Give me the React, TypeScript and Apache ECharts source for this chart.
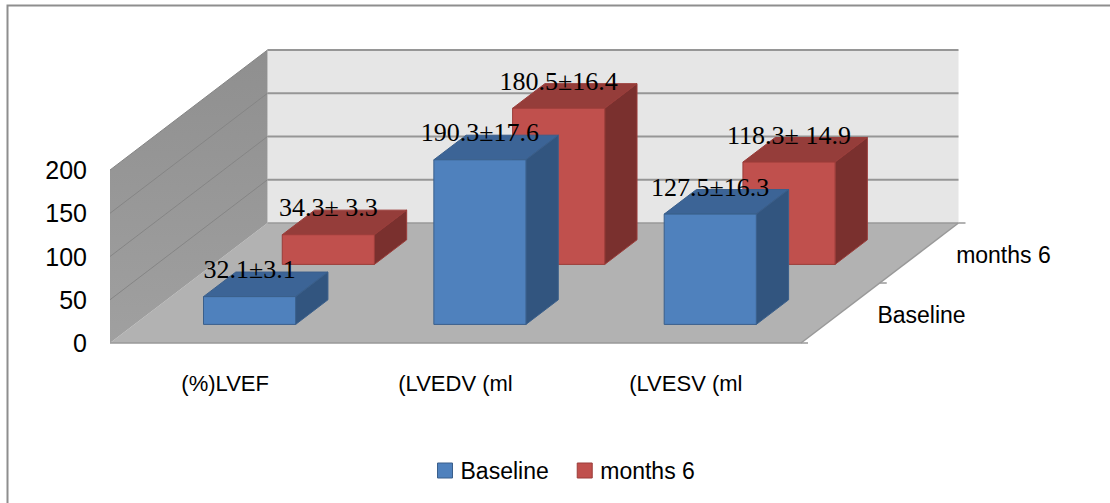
import React, { useEffect, useRef } from "react";
import * as echarts from "echarts";

// Categories and values
const CATEGORIES = ["(%)LVEF", "(LVEDV (ml", "(LVESV (ml"];
const SERIES_NAMES = ["Baseline", "months 6"];
const BASELINE_VALUES = [32.1, 190.3, 127.5];
const MONTHS6_VALUES = [34.3, 180.5, 118.3];
const BASELINE_LABELS = ["32.1±3.1", "190.3±17.6", "127.5±16.3"];
const MONTHS6_LABELS = ["34.3± 3.3", "180.5±16.4", "118.3± 14.9"];
const Y_MIN = 0;
const Y_MAX = 200;
const Y_STEP = 50;

// Oblique projection of the depth axis (pixels for the full depth)
const DEPTH_DX = 157.5;
const DEPTH_DY = -120;
const ROW_COUNT = SERIES_NAMES.length;
const BAR_WIDTH_RATIO = 0.4;
const BAR_DEPTH_START = 0.31; // within a row
const BAR_DEPTH_SIZE = 0.41; // within a row

const SANS = '"Liberation Sans", Arial, sans-serif';
const SERIF = '"Liberation Serif", "Times New Roman", serif';

type Palette = { front: string; top: string; side: string; edge: string };
const BLUE: Palette = { front: "#4F81BD", top: "#3C6496", side: "#32557F", edge: "#3A5F8B" };
const RED: Palette = { front: "#C0504D", top: "#953D3A", side: "#7A302E", edge: "#9B3D3A" };

function barRenderer(row: number, labels: string[], pal: Palette) {
  return (params: any, api: any) => {
    const idx = api.value(0);
    const val = api.value(1);
    const top = api.coord([idx, val]);
    const base = api.coord([idx, Y_MIN]);
    const band = api.size([1, 0])[0];
    const half = (band * BAR_WIDTH_RATIO) / 2;
    const z0 = (row + BAR_DEPTH_START) / ROW_COUNT;
    const z1 = (row + BAR_DEPTH_START + BAR_DEPTH_SIZE) / ROW_COUNT;
    const fx = z0 * DEPTH_DX, fy = z0 * DEPTH_DY;
    const bx = z1 * DEPTH_DX, by = z1 * DEPTH_DY;
    const xl = top[0] - half, xr = top[0] + half;
    const yt = top[1], yb = base[1];
    return {
      type: "group",
      children: [
        {
          type: "polygon",
          shape: { points: [[xl + fx, yt + fy], [xr + fx, yt + fy], [xr + bx, yt + by], [xl + bx, yt + by]] },
          style: { fill: pal.top, stroke: pal.edge, lineWidth: 1 },
        },
        {
          type: "polygon",
          shape: { points: [[xr + fx, yt + fy], [xr + bx, yt + by], [xr + bx, yb + by], [xr + fx, yb + fy]] },
          style: { fill: pal.side, stroke: pal.edge, lineWidth: 1 },
        },
        {
          type: "polygon",
          shape: { points: [[xl + fx, yt + fy], [xr + fx, yt + fy], [xr + fx, yb + fy], [xl + fx, yb + fy]] },
          style: { fill: pal.front, stroke: pal.edge, lineWidth: 1 },
        },
        {
          type: "text",
          x: top[0] + fx,
          y: yt + fy - 27,
          z2: 10,
          style: {
            text: labels[params.dataIndex],
            fill: "#000",
            fontSize: 26,
            fontFamily: SERIF,
            align: "center",
            verticalAlign: "middle",
          },
        },
      ],
    };
  };
}

function wallsRenderer(_params: any, api: any) {
  const band = api.size([1, 0])[0];
  const first = api.coord([0, Y_MIN]);
  const last = api.coord([CATEGORIES.length - 1, Y_MIN]);
  const left = first[0] - band / 2;
  const right = last[0] + band / 2;
  const y0 = first[1];
  const yTop = api.coord([0, Y_MAX])[1];
  const children: any[] = [];

  // floor
  children.push({
    type: "polygon",
    shape: { points: [[left, y0], [right, y0], [right + DEPTH_DX, y0 + DEPTH_DY], [left + DEPTH_DX, y0 + DEPTH_DY]] },
    style: { fill: "#B2B2B2" },
  });
  // back wall
  children.push({
    type: "polygon",
    shape: {
      points: [
        [left + DEPTH_DX, y0 + DEPTH_DY],
        [right + DEPTH_DX, y0 + DEPTH_DY],
        [right + DEPTH_DX, yTop + DEPTH_DY],
        [left + DEPTH_DX, yTop + DEPTH_DY],
      ],
    },
    style: { fill: "#E6E6E6" },
  });
  // left wall
  children.push({
    type: "polygon",
    shape: { points: [[left, y0], [left, yTop], [left + DEPTH_DX, yTop + DEPTH_DY], [left + DEPTH_DX, y0 + DEPTH_DY]] },
    style: {
      fill: new echarts.graphic.LinearGradient(0, 0, 0, 1, [
        { offset: 0, color: "#8F8F8F" },
        { offset: 1, color: "#A0A0A0" },
      ]),
    },
  });
  // gridlines on the walls
  for (let v = Y_MIN + Y_STEP; v <= Y_MAX; v += Y_STEP) {
    const yv = api.coord([0, v])[1];
    children.push({
      type: "line",
      shape: { x1: left + DEPTH_DX, y1: yv + DEPTH_DY, x2: right + DEPTH_DX, y2: yv + DEPTH_DY },
      style: { stroke: "#969696", lineWidth: 2 },
    });
    children.push({
      type: "line",
      shape: { x1: left, y1: yv, x2: left + DEPTH_DX, y2: yv + DEPTH_DY },
      style: { stroke: "#858585", lineWidth: 1 },
    });
  }
  // floor edges
  children.push({
    type: "line",
    shape: { x1: left, y1: y0, x2: right, y2: y0 },
    style: { stroke: "#999999", lineWidth: 1.5 },
  });
  children.push({
    type: "line",
    shape: { x1: left + DEPTH_DX, y1: y0 + DEPTH_DY, x2: right + DEPTH_DX, y2: y0 + DEPTH_DY },
    style: { stroke: "#999999", lineWidth: 1.5 },
  });
  children.push({
    type: "line",
    shape: { x1: right, y1: y0, x2: right + DEPTH_DX, y2: y0 + DEPTH_DY },
    style: { stroke: "#999999", lineWidth: 1.5 },
  });
  // depth-axis ticks
  for (let k = 0; k <= ROW_COUNT; k++) {
    const z = k / ROW_COUNT;
    const px = right + z * DEPTH_DX;
    const py = y0 + z * DEPTH_DY;
    children.push({
      type: "line",
      shape: { x1: px, y1: py, x2: px + 7, y2: py },
      style: { stroke: "#999999", lineWidth: 1.5 },
    });
  }
  // depth-axis labels
  SERIES_NAMES.forEach((name, s) => {
    const z = (s + 0.5) / ROW_COUNT;
    children.push({
      type: "text",
      x: right + z * DEPTH_DX + 37,
      y: y0 + z * DEPTH_DY + 2,
      style: { text: name, fill: "#000", fontSize: 23, fontFamily: SANS, align: "left", verticalAlign: "middle" },
    });
  });
  return { type: "group", children };
}

export default function App() {
  const ref = useRef<HTMLDivElement>(null);

  useEffect(() => {
    if (!ref.current) return;
    const chart = echarts.init(ref.current, undefined, { renderer: "svg" });
    chart.setOption({
      animation: false,
      backgroundColor: "#ffffff",
      grid: { left: 110, right: 309, top: 170, bottom: 160 },
      xAxis: {
        type: "category",
        data: CATEGORIES,
        axisLine: { show: false },
        axisTick: { show: false },
        axisLabel: { margin: 29, fontSize: 22, color: "#000", fontFamily: SANS },
      },
      yAxis: {
        type: "value",
        min: Y_MIN,
        max: Y_MAX,
        interval: Y_STEP,
        axisLine: { show: false },
        axisTick: { show: false },
        splitLine: { show: false },
        axisLabel: { margin: 23, fontSize: 25, color: "#000", fontFamily: SANS },
      },
      legend: {
        data: [
          { name: SERIES_NAMES[0], itemStyle: { borderColor: BLUE.edge, borderWidth: 1 } },
          { name: SERIES_NAMES[1], itemStyle: { borderColor: RED.edge, borderWidth: 1 } },
        ],
        left: 432,
        top: 454,
        icon: "rect",
        itemWidth: 15,
        itemHeight: 15,
        itemGap: 28,
        textStyle: { fontSize: 23, color: "#000", fontFamily: SANS, padding: [0, 0, 0, 3] },
      },
      graphic: [
        {
          type: "rect",
          shape: { x: 7.5, y: 5.5, width: 1200, height: 600 },
          style: { fill: "none", stroke: "#8E8E8E", lineWidth: 2 },
          silent: true,
        },
      ],
      series: [
        {
          type: "custom",
          name: "walls",
          silent: true,
          clip: false,
          z: 1,
          data: [[0, 0]],
          renderItem: wallsRenderer,
        },
        {
          type: "custom",
          name: SERIES_NAMES[1],
          clip: false,
          z: 2,
          itemStyle: { color: RED.front },
          data: MONTHS6_VALUES.map((v, i) => [i, v]),
          renderItem: barRenderer(1, MONTHS6_LABELS, RED),
        },
        {
          type: "custom",
          name: SERIES_NAMES[0],
          clip: false,
          z: 3,
          itemStyle: { color: BLUE.front },
          data: BASELINE_VALUES.map((v, i) => [i, v]),
          renderItem: barRenderer(0, BASELINE_LABELS, BLUE),
        },
      ],
    });
    return () => chart.dispose();
  }, []);

  return (
    <div
      ref={ref}
      style={{ position: "fixed", left: 0, top: 0, width: 1110, height: 503, background: "#fff" }}
    />
  );
}
